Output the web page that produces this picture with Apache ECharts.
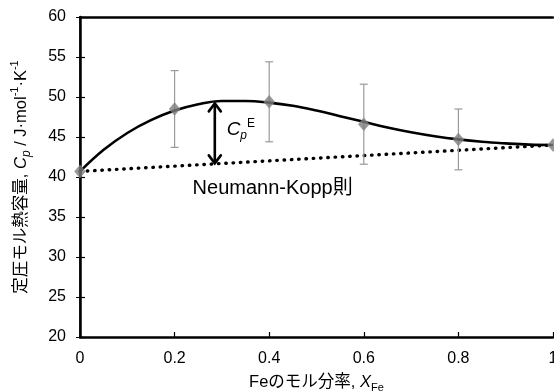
<!DOCTYPE html>
<html><head><meta charset="utf-8">
<script src="https://cdn.jsdelivr.net/npm/echarts@6/dist/echarts.min.js"></script>
<style>html,body{margin:0;padding:0;background:#fff}#c{width:554px;height:392px}</style>
</head><body><div id="c"></div>
<script>
const xTicks = [0, 0.2, 0.4, 0.6, 0.8, 1];
const yTicks = [20, 25, 30, 35, 40, 45, 50, 55, 60];
const measuredX = [0, 0.2, 0.4, 0.6, 0.8, 1];
const measuredCp = [40.7, 48.5, 49.4, 46.6, 44.7, 44.0];
const measuredErr = [0, 4.8, 5.0, 5.0, 3.8, 0];
const fitX = [0, 0.05, 0.1, 0.15, 0.2, 0.25, 0.3, 0.35, 0.4, 0.45, 0.5, 0.55, 0.6, 0.65, 0.7, 0.75, 0.8, 0.85, 0.9, 0.95, 1];
const fitCp = [40.7, 43.4, 45.5, 47.1, 48.3, 49.1, 49.5, 49.5, 49.3, 48.9, 48.3, 47.6, 46.9, 46.2, 45.6, 45.1, 44.7, 44.4, 44.2, 44.05, 44.0];
const nkX = [0, 1];
const nkCp = [40.7, 44.0];
const arrowX = 0.285;
const arrowY = [49.2, 41.7];
const nkLabel = 'Neumann-Kopp則';
const nkLabelPos = [0.238, 38.6];
const cpeLabelPos = [0.31, 45.9];

const FONT = "'Liberation Sans', Arial, 'Noto Sans CJK JP', sans-serif";
const chart = echarts.init(document.getElementById('c'));

chart.setOption({
  animation: false,
  grid: {left: 80, top: 17, right: 1, bottom: 55, containLabel: false, outerBoundsMode: 'none'},
  xAxis: [{
    type: 'value', min: 0, max: 1, interval: 0.2,
    axisLine: {lineStyle: {color: '#000', width: 2.5}},
    axisTick: {inside: true, length: 5, lineStyle: {color: '#000', width: 1.2}},
    axisLabel: {color: '#000', fontSize: 16, fontFamily: FONT, margin: 14,
      formatter: v => String(+v.toFixed(1))},
    splitLine: {show: false},
    name: 'Feのモル分率, {i|X}{sub|Fe}', nameLocation: 'middle', nameGap: 32,
    nameTextStyle: {color: '#000', fontSize: 16.5, fontFamily: FONT, lineHeight: 22,
      rich: {i: {fontStyle: 'italic', fontSize: 16.5, fontFamily: FONT, color: '#000'},
             sub: {fontSize: 11, fontFamily: FONT, color: '#000', verticalAlign: 'bottom', padding: [6, 0, 0, 0]}}}
  }, {
    type: 'value', min: 0, max: 1, interval: 0.2, position: 'top',
    axisLine: {show: true, lineStyle: {color: '#000', width: 2.5}},
    axisTick: {show: false}, axisLabel: {show: false}, splitLine: {show: false}
  }],
  yAxis: [{
    type: 'value', min: 20, max: 60, interval: 5,
    axisLine: {show: true, lineStyle: {color: '#000', width: 2.5}},
    axisTick: {show: true, inside: true, length: 5, lineStyle: {color: '#000', width: 1.2}},
    axisLabel: {color: '#000', fontSize: 16, fontFamily: FONT, margin: 14},
    splitLine: {show: false},
    name: '定圧モル熱容量, {i|C}{sub|p} / J·mol{sup|-1}·K{sup|-1}', nameLocation: 'middle', nameGap: 47,
    nameTextStyle: {color: '#000', fontSize: 16.5, fontFamily: FONT, lineHeight: 24,
      rich: {i: {fontStyle: 'italic', fontSize: 16.5, fontFamily: FONT, color: '#000'},
             sub: {fontStyle: 'italic', fontSize: 12, fontFamily: FONT, color: '#000', verticalAlign: 'bottom'},
             sup: {fontSize: 11, fontFamily: FONT, color: '#000', verticalAlign: 'top'}}}
  }, {
    type: 'value', min: 20, max: 60, interval: 5, position: 'right',
    axisLine: {show: true, lineStyle: {color: '#000', width: 1.5}},
    axisTick: {show: true, inside: true, length: 4, lineStyle: {color: '#000', width: 1}},
    axisLabel: {show: false}, splitLine: {show: false}
  }],
  series: [
    {
      type: 'line', data: nkX.map((x, i) => [x, nkCp[i]]), symbol: 'none',
      lineStyle: {color: '#000', width: 3.4, type: [0.5, 6.8], cap: 'round'}, z: 2
    },
    {
      type: 'custom', z: 3,
      data: measuredX.map((x, i) => [x, measuredCp[i], measuredErr[i]]),
      renderItem: (params, api) => {
        const e = api.value(2);
        if (!e) return {type: 'group', children: []};
        const x = api.value(0), y = api.value(1);
        const top = api.coord([x, y + e]), bot = api.coord([x, y - e]);
        const w = 4;
        const st = {stroke: '#9a9a9a', lineWidth: 1.2};
        return {type: 'group', children: [
          {type: 'line', shape: {x1: top[0], y1: top[1], x2: bot[0], y2: bot[1]}, style: st},
          {type: 'line', shape: {x1: top[0]-w, y1: top[1], x2: top[0]+w, y2: top[1]}, style: st},
          {type: 'line', shape: {x1: bot[0]-w, y1: bot[1], x2: bot[0]+w, y2: bot[1]}, style: st}
        ]};
      }
    },
    {
      type: 'line', data: fitX.map((x, i) => [x, fitCp[i]]), symbol: 'none', smooth: 0.4,
      lineStyle: {color: '#000', width: 2.6}, z: 4
    },
    {
      type: 'scatter', data: measuredX.map((x, i) => [x, measuredCp[i]]),
      symbol: 'diamond', symbolSize: [11, 13],
      itemStyle: {color: '#7d7d7d', borderColor: '#8f8f8f', borderWidth: 0.5}, z: 5
    },
    {
      type: 'custom', z: 6, data: [[arrowX, arrowY[0], arrowY[1]]],
      renderItem: (params, api) => {
        const a = api.coord([api.value(0), api.value(1)]);
        const b = api.coord([api.value(0), api.value(2)]);
        const st = {stroke: '#000', lineWidth: 2.6, fill: null, lineCap: 'round', lineJoin: 'miter'};
        const h = 8, w = 6;
        return {type: 'group', children: [
          {type: 'line', shape: {x1: a[0], y1: a[1] + 1, x2: b[0], y2: b[1] - 1}, style: st},
          {type: 'polyline', shape: {points: [[a[0]-w, a[1]+h], [a[0], a[1]], [a[0]+w, a[1]+h]]}, style: st},
          {type: 'polyline', shape: {points: [[b[0]-w, b[1]-h], [b[0], b[1]], [b[0]+w, b[1]-h]]}, style: st}
        ]};
      }
    },
    {
      type: 'custom', z: 7, data: [[nkLabelPos[0], nkLabelPos[1], cpeLabelPos[0], cpeLabelPos[1]]],
      renderItem: (params, api) => {
        const p = api.coord([api.value(0), api.value(1)]);
        const q = api.coord([api.value(2), api.value(3)]);
        return {type: 'group', children: [
          {type: 'text', x: p[0], y: p[1], style: {text: nkLabel, fill: '#000', font: '20px ' + FONT, textAlign: 'left', textVerticalAlign: 'middle'}},
          {type: 'text', x: q[0], y: q[1], style: {
            text: '{c|C}{p|p}{e|E}', textAlign: 'left', textVerticalAlign: 'middle',
            rich: {
              c: {fontStyle: 'italic', fontSize: 19, fontFamily: FONT, fill: '#000', lineHeight: 24, verticalAlign: 'middle'},
              p: {fontStyle: 'italic', fontSize: 12, fontFamily: FONT, fill: '#000', verticalAlign: 'bottom'},
              e: {fontSize: 12, fontFamily: FONT, fill: '#000', verticalAlign: 'top'}
            }}}
        ]};
      }
    }
  ]
});
</script></body></html>
